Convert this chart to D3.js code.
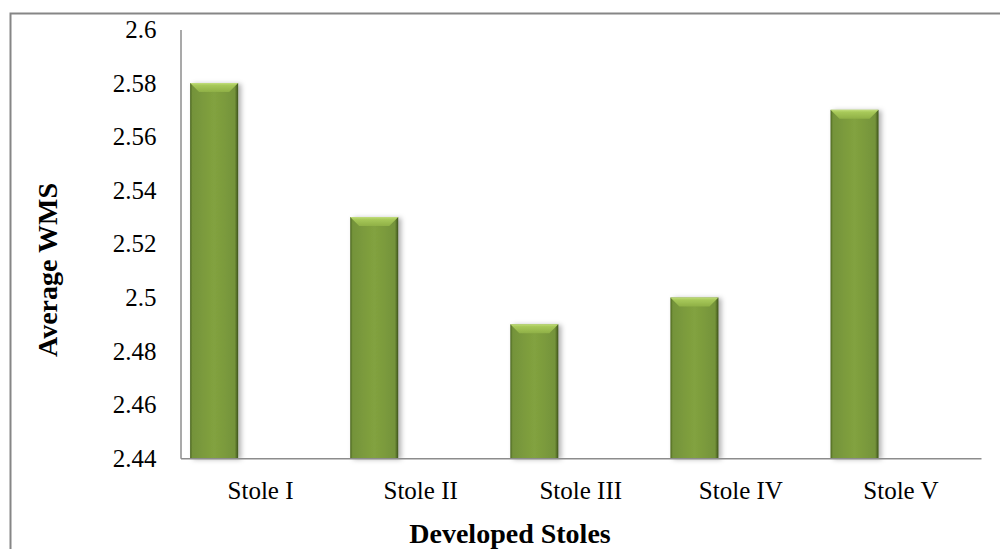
<!DOCTYPE html>
<html>
<head>
<meta charset="utf-8">
<script src="https://cdn.jsdelivr.net/npm/d3@7"></script>
<style>
  body { margin: 0; background: #fff; }
  text { font-family: "Liberation Serif", "Times New Roman", serif; fill: #000; }
</style>
</head>
<body>
<script>
// values
var stoles = ["Stole I", "Stole II", "Stole III", "Stole IV", "Stole V"];
var wms = [2.58, 2.53, 2.49, 2.50, 2.57];
var yTicks = [2.44, 2.46, 2.48, 2.5, 2.52, 2.54, 2.56, 2.58, 2.6];

var W = 1000, H = 549;
var svg = d3.select("body").append("svg")
  .attr("width", W)
  .attr("height", H);

var defs = svg.append("defs");
// horizontal shading of the bar body
var g1 = defs.append("linearGradient").attr("id", "barBody")
  .attr("x1", "0").attr("x2", "1").attr("y1", "0").attr("y2", "0");
g1.append("stop").attr("offset", "0").attr("stop-color", "#4a6420");
g1.append("stop").attr("offset", "0.05").attr("stop-color", "#74933a");
g1.append("stop").attr("offset", "0.5").attr("stop-color", "#82a23f");
g1.append("stop").attr("offset", "0.93").attr("stop-color", "#74933a");
g1.append("stop").attr("offset", "1").attr("stop-color", "#3d521a");
// top bevel
var g2 = defs.append("linearGradient").attr("id", "barTop")
  .attr("x1", "0").attr("x2", "0").attr("y1", "0").attr("y2", "1");
g2.append("stop").attr("offset", "0").attr("stop-color", "#c2de7c");
g2.append("stop").attr("offset", "0.25").attr("stop-color", "#a8c95a");
g2.append("stop").attr("offset", "1").attr("stop-color", "#8fb046");
var sh = defs.append("filter").attr("id", "shadow")
  .attr("x", "-20%").attr("y", "-5%").attr("width", "160%").attr("height", "110%");
sh.append("feDropShadow").attr("dx", 3).attr("dy", 1).attr("stdDeviation", 2.5)
  .attr("flood-color", "#000").attr("flood-opacity", 0.3);

// outer frame
svg.append("rect")
  .attr("x", 10.5).attr("y", 13.5)
  .attr("width", 1000).attr("height", 600)
  .attr("fill", "none")
  .attr("stroke", "#868686")
  .attr("stroke-width", 2);

var pLeft = 180.5, pRight = 981, pTop = 29.4, pBottom = 458.3;

var x = d3.scaleBand()
  .domain(stoles)
  .range([pLeft, pRight]);

var y = d3.scaleLinear()
  .domain([2.44, 2.6])
  .range([pBottom, pTop]);

// bars sit in the left part of each category (second slot empty)
var bars = svg.append("g").selectAll("g.bar")
  .data(stoles)
  .enter().append("g")
  .attr("class", "bar")
  .attr("filter", "url(#shadow)");

var bw = x.bandwidth() * 0.3;
var off = x.bandwidth() * 0.06;
var bev = 9;

bars.append("rect")
  .attr("x", d => x(d) + off)
  .attr("y", (d, i) => y(wms[i]))
  .attr("width", bw)
  .attr("height", (d, i) => pBottom - y(wms[i]))
  .attr("fill", "url(#barBody)");

bars.append("path")
  .attr("d", function(d, i) {
    var x0 = x(d) + off, y0 = y(wms[i]);
    return "M" + x0 + "," + y0 + "L" + (x0 + bw) + "," + y0 +
      "L" + (x0 + bw - bev) + "," + (y0 + bev) + "L" + (x0 + bev) + "," + (y0 + bev) + "Z";
  })
  .attr("fill", "url(#barTop)");

// axes
var yAxis = svg.append("g")
  .attr("transform", "translate(" + pLeft + ",0)")
  .call(d3.axisLeft(y).tickValues(yTicks).tickSize(0).tickPadding(24)
    .tickFormat(d => d3.format("")(+d.toFixed(2))));
yAxis.select(".domain").attr("stroke", "#8c8c8c").attr("stroke-width", 1.5);
yAxis.selectAll("text")
  .style("font-size", "25px")
  .style("font-family", "Liberation Serif, Times New Roman, serif")
  .attr("fill", "#000");

var xAxis = svg.append("g")
  .attr("transform", "translate(0," + pBottom + ")")
  .call(d3.axisBottom(x).tickSize(0).tickPadding(23));
xAxis.select(".domain").attr("stroke", "#8c8c8c").attr("stroke-width", 1.5);
xAxis.selectAll("text")
  .style("font-size", "25px")
  .style("font-family", "Liberation Serif, Times New Roman, serif")
  .attr("fill", "#000");

// axis titles
svg.append("text")
  .attr("x", 510)
  .attr("y", 543)
  .attr("text-anchor", "middle")
  .style("font-size", "28px")
  .style("font-weight", "bold")
  .text("Developed Stoles");

svg.append("text")
  .attr("transform", "translate(57," + 270 + ") rotate(-90)")
  .attr("text-anchor", "middle")
  .style("font-size", "28px")
  .style("font-weight", "bold")
  .text("Average WMS");
</script>
</body>
</html>
